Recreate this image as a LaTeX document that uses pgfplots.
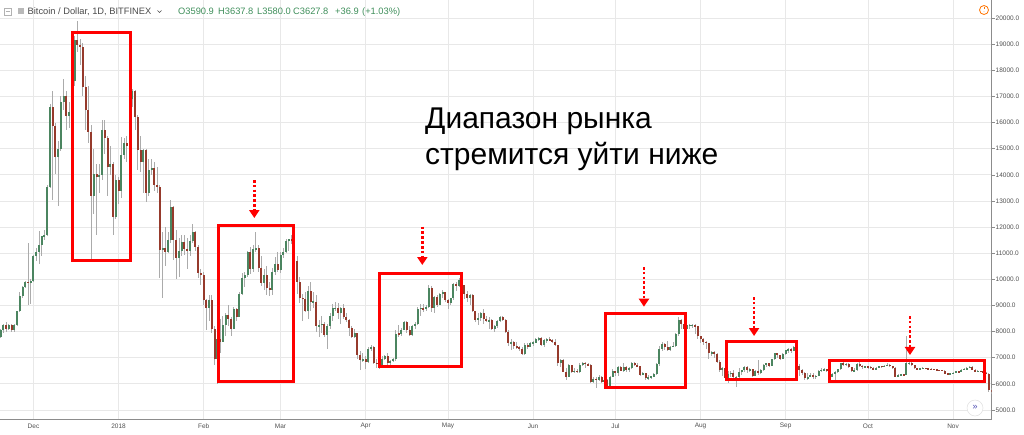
\documentclass[border=0pt]{standalone}
\usepackage{pgfplots}
\pgfplotsset{compat=1.18}
\usepackage{pgfplotstable}
\usepackage{fontspec}
\setmainfont{Liberation Sans}
\usetikzlibrary{arrows.meta}
\definecolor{upc}{HTML}{4B8560}
\definecolor{dnc}{HTML}{963A2C}
\definecolor{wickc}{HTML}{ABABAB}
\definecolor{gridc}{HTML}{E8E8E8}
\definecolor{axc}{HTML}{8C8C8C}
\definecolor{tickc}{HTML}{505050}
\definecolor{hdrgreen}{HTML}{3E8E5A}
\definecolor{hdrgray}{HTML}{4A4A4A}
\definecolor{boxred}{HTML}{FF0000}

\pgfplotstableread{
d o h l c
-12 7800 8100 7750 8050
-11 8050 8300 7950 8250
-10 8250 8350 8000 8100
-9 8100 8300 8050 8250
-8 8250 8300 8000 8050
-7 8050 8300 8000 8250
-6 8250 8800 8200 8770
-5 8770 9500 8750 9350
-4 9350 9750 9300 9720
-3 9720 9950 9650 9910
-2 9910 11400 9000 9850
-1 9850 10000 9050 9950
0 9950 10950 9900 10900
1 10900 11200 10700 11050
2 11050 11850 10600 11300
3 11300 11650 10900 11650
4 11650 11900 11500 11700
5 11700 13600 11650 13550
6 13550 16700 13500 16600
7 16600 17200 13050 15870
8 15870 16000 14050 14700
9 14700 15300 12800 15000
10 15000 17000 14900 16800
11 16800 17650 16500 17000
12 17000 17200 15700 16250
13 16250 16800 15800 16400
14 16400 18150 16300 17580
15 17580 19300 17400 19150
16 19150 19900 18700 18970
17 18970 19200 18200 18900
18 18900 19050 17000 17370
19 17370 17800 15700 16480
20 16480 17400 15200 15650
21 15650 15900 10770 13200
22 13200 15000 12500 14050
23 14050 14400 11700 13900
24 13900 14400 13300 14000
25 14000 16100 13800 15700
26 15700 16100 14800 15400
27 15400 15500 13200 14300
28 14300 15100 14000 14400
29 14400 14500 11700 12400
30 12400 14000 12300 13800
31 13800 13900 12900 13400
32 13400 15450 13100 14750
33 14750 15400 14600 15200
34 15200 15500 14500 15100
35 15100 17100 15000 16900
36 16900 17300 16600 17200
37 17200 17250 15700 16200
38 16200 16300 14200 14950
39 14950 15500 14100 14500
40 14500 15000 13300 14950
41 14950 15000 12950 13300
42 13300 14600 13200 14200
43 14200 14600 14000 14250
44 14250 14500 13400 13610
45 13610 14300 13300 13550
46 13550 13600 10050 11120
47 11120 11800 9300 11200
48 11200 12000 10500 11060
49 11060 11800 11000 11500
50 11500 13050 11400 12780
51 12780 12800 10750 11500
52 11500 11900 10000 10800
53 10800 11600 10100 11100
54 11100 11700 10900 11440
55 11440 11700 10950 11150
56 11150 11600 10400 11100
57 11100 11700 10900 11450
58 11450 12100 11400 11820
59 11820 11850 11100 11250
60 11250 11300 10050 10230
61 10230 10400 9800 10150
62 10150 10300 9000 9210
63 9210 9250 8060 8890
64 8890 9400 8400 9200
65 9200 9400 7950 8100
66 8100 8200 6720 6950
67 6950 7900 6000 7700
68 7700 8500 7200 7600
69 7600 8600 7600 8250
70 8250 8700 7850 8650
71 8650 9000 8200 8500
72 8500 8550 7850 8100
73 8100 8950 8100 8850
74 8850 8900 8400 8550
75 8550 9500 8550 9450
76 9450 10250 9400 10050
77 10050 10300 9700 10150
78 10150 11100 10100 11050
79 11050 11250 10200 10400
80 10400 11300 10300 11150
81 11150 11800 11050 11200
82 11200 11300 10300 10450
83 10450 10900 9750 9850
84 9850 10400 9600 10150
85 10150 10500 9400 9650
86 9650 9900 9350 9600
87 9600 10450 9400 10300
88 10300 10850 10150 10600
89 10600 11050 10300 10350
90 10350 11050 10250 10950
91 10950 11200 10800 11050
92 11050 11550 11000 11450
93 11450 11550 11100 11550
94 11550 11700 11350 11450
95 11450 11500 10600 10700
96 10700 10900 9450 9900
97 9900 10100 9100 9300
98 9300 9450 8400 9250
99 9250 9500 8750 8800
100 8800 9750 8500 9550
101 9550 9900 8800 9150
102 9150 9500 8900 9150
103 9150 9400 8000 8200
104 8200 8450 7800 8250
105 8250 8600 7950 8300
106 8300 8350 7800 7880
107 7880 8300 7350 8200
108 8200 8700 8100 8600
109 8600 9050 8400 8900
110 8900 9150 8800 8900
111 8900 9100 8500 8700
112 8700 8950 8300 8900
113 8900 9050 8500 8550
114 8550 8700 8350 8450
115 8450 8500 7850 8150
116 8150 8200 7750 7800
117 7800 8100 7750 7950
118 7950 7950 6950 7100
119 7100 7250 6530 6900
120 6900 7200 6850 6950
121 6950 7050 6550 6850
122 6850 7400 6800 7330
123 7330 7500 7250 7420
124 7420 7450 6750 6800
125 6800 6950 6600 6780
126 6780 6850 6580 6650
127 6650 7050 6640 6950
128 6950 7100 6900 7050
129 7050 7200 6650 6780
130 6780 6900 6700 6880
131 6880 6980 6820 6950
132 6950 8050 6880 7920
133 7920 8250 7800 7900
134 7900 8150 7850 8050
135 8050 8400 8050 8370
136 8370 8400 7950 8080
137 8080 8200 7850 7880
138 7880 8250 7850 8200
139 8200 8350 8100 8300
140 8300 8950 8250 8880
141 8880 9050 8600 8900
142 8900 9050 8750 8850
143 8850 9000 8800 8950
144 8950 9780 8900 9650
145 9650 9750 8750 8900
146 8900 9350 8700 9330
147 9330 9400 8950 9030
148 9030 9480 9000 9450
149 9450 9600 9300 9500
150 9500 9500 9150 9220
151 9220 9250 8850 9080
152 9080 9300 9000 9270
153 9270 9850 9200 9840
154 9840 9900 9550 9750
155 9750 10050 9700 9970
156 9970 9980 9450 9800
157 9800 9800 9250 9450
158 9450 9550 9150 9280
159 9280 9450 9000 9400
160 9400 9450 8750 8780
161 8780 8800 8350 8450
162 8450 8700 8250 8520
163 8520 8750 8400 8700
164 8700 8850 8300 8480
165 8480 8600 8350 8400
166 8400 8550 8100 8450
167 8450 8500 8050 8100
168 8100 8250 8000 8200
169 8200 8450 8150 8400
170 8400 8600 8350 8550
171 8550 8600 8400 8450
172 8450 8500 7950 8000
173 8000 8050 7450 7550
174 7550 7700 7300 7600
175 7600 7650 7350 7450
176 7450 7600 7350 7400
177 7400 7450 7250 7350
178 7350 7400 7100 7140
179 7140 7550 7100 7480
180 7480 7550 7350 7420
181 7420 7600 7400 7550
182 7550 7650 7450 7580
183 7580 7750 7550 7700
184 7700 7800 7650 7740
185 7740 7780 7450 7490
186 7490 7700 7400 7660
187 7660 7750 7550 7700
188 7700 7780 7650 7680
189 7680 7700 7550 7620
190 7620 7700 7450 7500
191 7500 7500 6700 6780
192 6780 6950 6650 6900
193 6900 6950 6450 6470
194 6470 6600 6130 6280
195 6280 6750 6250 6720
196 6720 6720 6400 6450
197 6450 6600 6400 6500
198 6500 6580 6420 6450
199 6450 6800 6400 6720
200 6720 6850 6700 6800
201 6800 6830 6600 6760
202 6760 6800 6700 6720
203 6720 6750 6050 6080
204 6080 6250 6050 6190
205 6190 6250 5830 6150
206 6150 6350 6100 6280
207 6280 6300 6050 6080
208 6080 6200 6050 6150
209 6150 6170 5880 5920
210 5920 6300 5850 6270
211 6270 6550 6250 6490
212 6490 6500 6300 6420
213 6420 6700 6300 6660
214 6660 6700 6480 6510
215 6510 6800 6450 6630
216 6630 6700 6450 6520
217 6520 6650 6450 6600
218 6600 6850 6550 6800
219 6800 6820 6700 6720
220 6720 6800 6650 6680
221 6680 6700 6300 6350
222 6350 6450 6330 6400
223 6400 6400 6150 6210
224 6210 6350 6150 6250
225 6250 6320 6200 6280
226 6280 6400 6270 6370
227 6370 6780 6350 6760
228 6760 7450 6680 7330
229 7330 7600 7250 7520
230 7520 7550 7300 7400
231 7400 7650 7250 7300
232 7300 7450 7250 7420
233 7420 7600 7400 7450
234 7450 7950 7400 7900
235 7900 8550 7850 8450
236 8450 8500 8100 8300
237 8300 8350 7900 8100
238 8100 8300 7850 8250
239 8250 8300 8100 8250
240 8250 8300 8150 8250
241 8250 8300 7900 8200
242 8200 8200 7700 7850
243 7850 7850 7550 7700
244 7700 7750 7500 7620
245 7620 7650 7350 7550
246 7550 7550 6950 7170
247 7170 7250 7050 7220
248 7220 7250 7000 7130
249 7130 7200 6800 6850
250 6850 6900 6450 6530
251 6530 6650 6300 6620
252 6620 6650 6150 6210
253 6210 6500 6050 6380
254 6380 6500 6250 6420
255 6420 6520 6150 6250
256 6250 6300 5870 6270
257 6270 6600 6200 6470
258 6470 6550 6350 6520
259 6520 6700 6450 6660
260 6660 6700 6400 6530
261 6530 6600 6450 6560
262 6560 6560 6280 6300
263 6300 6520 6300 6500
264 6500 6910 6350 6400
265 6400 6550 6380 6520
266 6520 6750 6480 6720
267 6720 6800 6650 6780
268 6780 6800 6650 6700
269 6700 6950 6680 6940
270 6940 7200 6900 7170
271 7170 7180 7000 7090
272 7090 7100 6900 6950
273 6950 7200 6950 7150
274 7150 7300 7100 7280
275 7280 7380 7200 7350
276 7350 7360 7200 7270
277 7270 7450 7250 7400
278 7400 7420 6680 6700
279 6700 6750 6300 6520
280 6520 6560 6350 6420
281 6420 6450 6150 6210
282 6210 6400 6150 6270
283 6270 6400 6250 6330
284 6330 6400 6200 6270
285 6270 6350 6200 6320
286 6320 6550 6300 6500
287 6500 6600 6450 6530
288 6530 6600 6500 6560
289 6560 6560 6450 6510
290 6510 6550 6250 6270
291 6270 6400 6250 6380
292 6380 6500 6150 6440
293 6440 6580 6400 6560
294 6560 6800 6540 6780
295 6780 6850 6700 6740
296 6740 6800 6700 6760
297 6760 6780 6600 6640
298 6640 6650 6450 6480
299 6480 6600 6460 6530
300 6530 6780 6500 6760
301 6760 6900 6650 6700
302 6700 6720 6560 6630
303 6630 6700 6600 6680
304 6680 6700 6580 6640
305 6640 6680 6580 6620
306 6620 6630 6530 6550
307 6550 6660 6540 6620
308 6620 6700 6600 6680
309 6680 6700 6620 6660
310 6660 6720 6640 6700
311 6700 6780 6680 6740
312 6740 6750 6660 6680
313 6680 6690 6580 6620
314 6620 6630 6250 6280
315 6280 6360 6260 6330
316 6330 6380 6310 6360
317 6360 6390 6320 6340
318 6340 7830 6330 6780
319 6780 6840 6720 6800
320 6800 6820 6700 6720
321 6720 6740 6580 6600
322 6600 6620 6540 6560
323 6560 6610 6550 6590
324 6590 6630 6580 6600
325 6600 6620 6570 6580
326 6580 6590 6550 6570
327 6570 6600 6550 6560
328 6560 6570 6530 6550
329 6550 6560 6520 6530
330 6530 6540 6510 6520
331 6520 6530 6500 6510
332 6510 6520 6360 6390
333 6390 6420 6370 6380
334 6380 6420 6360 6400
335 6400 6460 6390 6430
336 6430 6500 6420 6480
337 6480 6490 6440 6460
338 6460 6560 6450 6540
339 6540 6600 6520 6560
340 6560 6640 6550 6610
341 6610 6700 6600 6660
342 6660 6670 6520 6540
343 6540 6550 6450 6480
344 6480 6520 6470 6490
345 6490 6510 6440 6480
346 6480 6500 6410 6430
347 6430 6440 6370 6390
348 6390 6410 5700 5760
349 5760 5850 5600 5700
}\candles

\begin{document}
\begin{tikzpicture}[x=1pt,y=1pt]
\path[use as bounding box] (0pt,0pt) rectangle (1024pt,434pt);
\begin{axis}[
  at={(0pt,14.7pt)}, anchor=south west,
  scale only axis, width=991.5pt, height=419.3pt,
  xmin=-12.2, xmax=349.0, ymin=4644, ymax=20691,
  axis x line*=bottom, axis y line*=right,
  axis line style={draw=axc, line width=0.8pt},
  xtick={0,31,62,90,121,151,182,212,243,274,304,335},
  xticklabels={Dec,2018,Feb,Mar,Apr,May,Jun,Jul,Aug,Sep,Oct,Nov},
  ytick={5000,6000,...,20000},
  yticklabels={5000.0,6000.0,7000.0,8000.0,9000.0,10000.0,11000.0,12000.0,13000.0,14000.0,15000.0,16000.0,17000.0,18000.0,19000.0,20000.0},
  grid=major, major grid style={draw=gridc, line width=0.8pt},
  tick label style={font=\fontsize{6.5}{7}\selectfont, text=tickc},
  tick align=outside, major tick length=3pt,
  x tick style={draw=none},
  y tick style={draw=axc, line width=0.6pt},
  yticklabel style={anchor=west, inner sep=1pt},
  xticklabel style={anchor=center, yshift=-4pt},
]
% wicks
\addplot[draw=none, mark=none, forget plot,
  error bars/.cd, y dir=both, y explicit, error mark=none,
  error bar style={draw=wickc, line width=0.9pt}]
  table[x=d, y expr={(\thisrow{h}+\thisrow{l})/2}, y error expr={(\thisrow{h}-\thisrow{l})/2}] {\candles};
% up bodies
\addplot[draw=none, mark=none, forget plot,
  error bars/.cd, y dir=both, y explicit, error mark=none,
  error bar style={draw=upc, line width=2pt}]
  table[x=d, y expr={\thisrow{c}>=\thisrow{o} ? (\thisrow{o}+\thisrow{c})/2 : nan}, y error expr={max(abs(\thisrow{c}-\thisrow{o})/2,20)}] {\candles};
% down bodies
\addplot[draw=none, mark=none, forget plot,
  error bars/.cd, y dir=both, y explicit, error mark=none,
  error bar style={draw=dnc, line width=2pt}]
  table[x=d, y expr={\thisrow{c}<\thisrow{o} ? (\thisrow{o}+\thisrow{c})/2 : nan}, y error expr={max(abs(\thisrow{c}-\thisrow{o})/2,20)}] {\candles};

% red boxes
\draw[boxred, line width=3pt] (axis cs:14.28,19455) rectangle (axis cs:35.26,10740);
\draw[boxred, line width=3pt] (axis cs:67.58,12053) rectangle (axis cs:94.90,6072);
\draw[boxred, line width=3pt] (axis cs:126.23,10205) rectangle (axis cs:156.0,6646);
\draw[boxred, line width=3pt] (axis cs:208.45,8674) rectangle (axis cs:237.7,5880);
\draw[boxred, line width=3pt] (axis cs:252.6,7614) rectangle (axis cs:278.1,6186);
\draw[boxred, line width=3pt] (axis cs:289.9,6894) rectangle (axis cs:346.6,6091);
% dotted arrows
\tikzset{darr/.style={boxred, line width=2.6pt, dash pattern=on 2.6pt off 2.2pt, -{Triangle[length=8pt,width=10pt]}}}
\draw[darr] (axis cs:80.44,13802) -- (axis cs:80.44,12347);
\draw[darr] (axis cs:141.64,12015) -- (axis cs:141.64,10549);
\draw[darr] (axis cs:222.4,10473) -- (axis cs:222.4,8953);
\draw[darr] (axis cs:262.5,9324) -- (axis cs:262.5,7832);
\draw[darr] (axis cs:319.3,8597) -- (axis cs:319.3,7105);
\end{axis}

% annotation text
\node[anchor=base west, inner sep=0pt, font=\fontsize{30}{36}\selectfont] at (425pt,305pt) {Диапазон рынка};
\node[anchor=base west, inner sep=0pt, font=\fontsize{30}{36}\selectfont] at (425pt,269pt) {стремится уйти ниже};

% header
\draw[draw=gray!60, line width=0.6pt] (4pt,419pt) rectangle (11pt,426pt);
\draw[draw=gray!60, line width=0.6pt] (5.5pt,422.5pt) -- (9.5pt,422.5pt);
\fill[gray!55] (18pt,419.5pt) rectangle (24pt,425.5pt);
\node[anchor=base west, inner sep=0pt, text=hdrgray, font=\fontsize{9.3}{11}\selectfont] at (27.5pt,419pt) {Bitcoin / Dollar, 1D, BITFINEX};
\draw[hdrgray, line width=0.5pt] (157.5pt,423.5pt) -- (159.5pt,421.5pt) -- (161.5pt,423.5pt);
\begin{scope}[every node/.style={anchor=base west, inner sep=0pt, text=hdrgreen, font=\fontsize{9.3}{11}\selectfont}]
\node at (178pt,419pt) {O3590.9};
\node at (218pt,419pt) {H3637.8};
\node at (257pt,419pt) {L3580.0};
\node at (293pt,419pt) {C3627.8};
\node at (335pt,419pt) {+36.9};
\node at (362pt,419pt) {(+1.03\%)};
\end{scope}

% orange warning icon
\draw[draw=orange!90!red, line width=0.8pt] (984pt,424pt) circle (4.5pt);
\fill[orange!90!red] (983.6pt,424.6pt) rectangle (984.4pt,427pt);
\fill[orange!90!red] (984pt,422.2pt) circle (0.45pt);
% scroll button
\fill[white] (975pt,26pt) circle (8pt);
\draw[draw=gray!25, line width=0.5pt] (975pt,26pt) circle (8pt);
\node[text=blue!40!gray, font=\fontsize{9}{10}\selectfont, inner sep=0pt] at (975pt,26.5pt) {»};
\end{tikzpicture}
\end{document}
